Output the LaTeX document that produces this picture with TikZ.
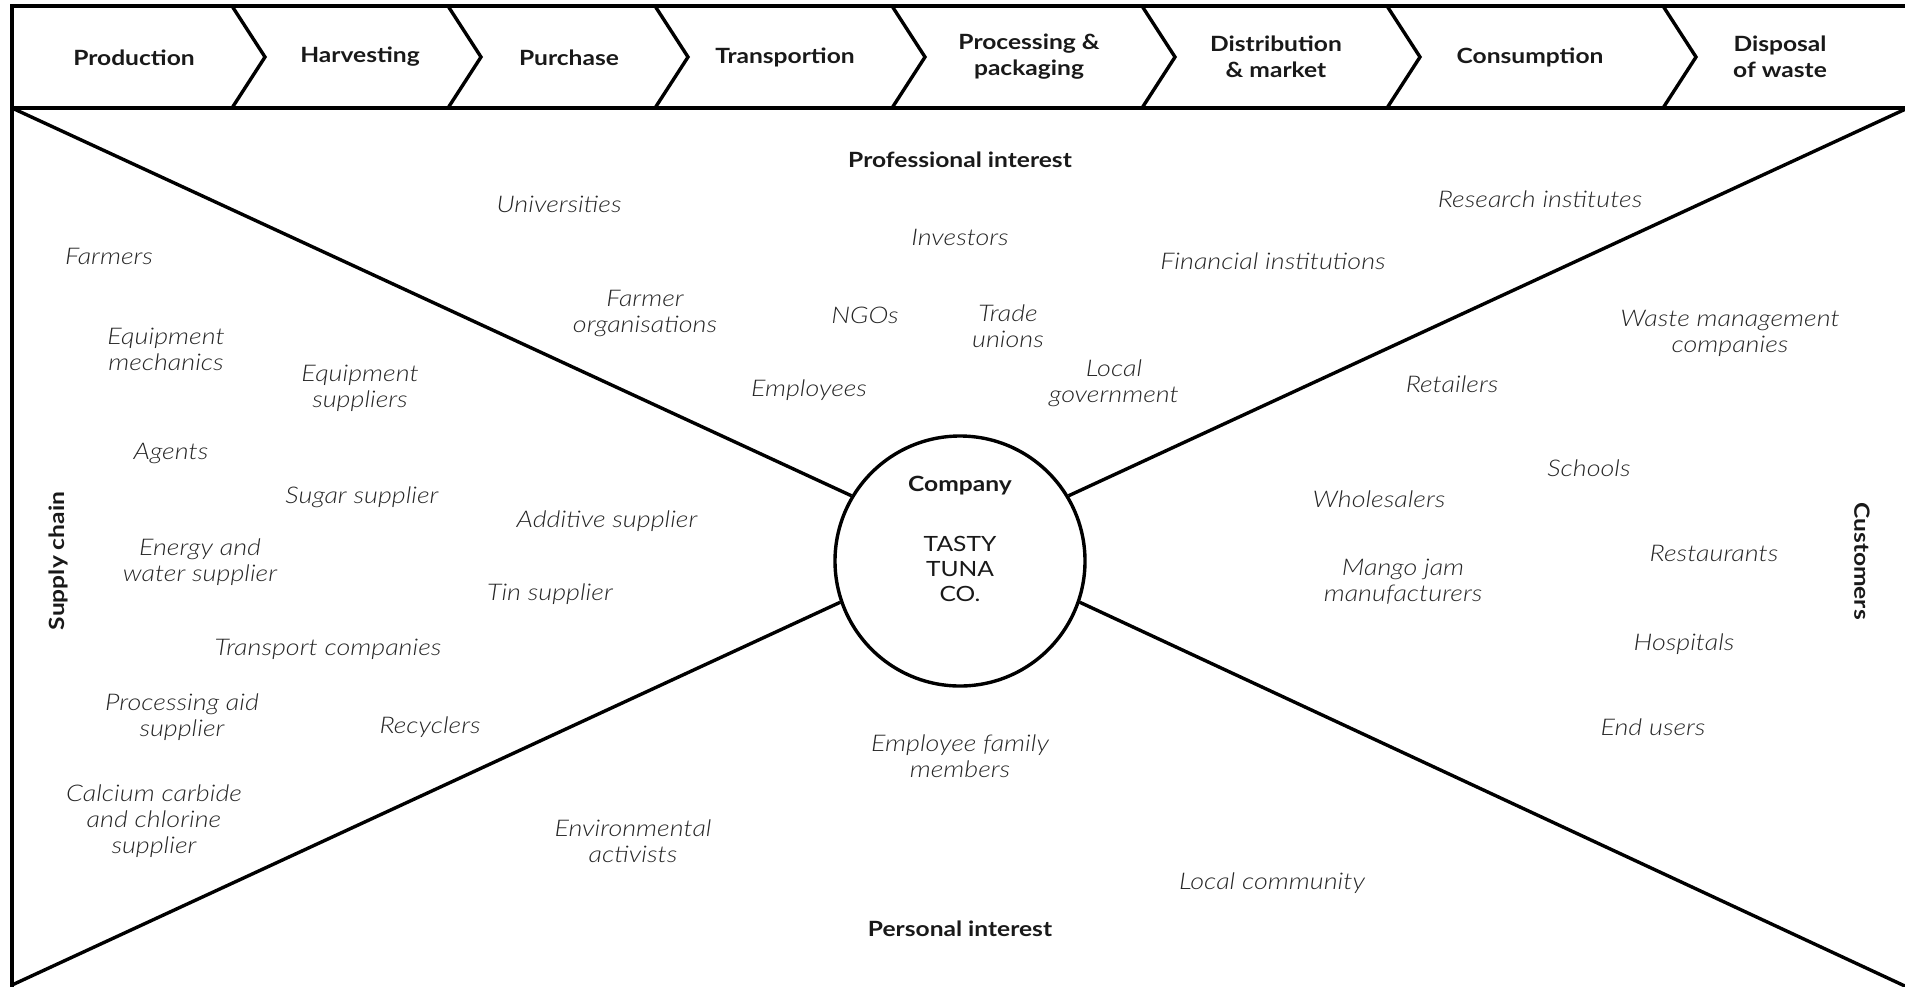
\documentclass[tikz,border=0pt]{standalone}
\usepackage{fontspec}
\setsansfont{Lato}[FakeStretch=1.17, ItalicFont={Lato Light Italic}]
\usetikzlibrary{positioning}

\begin{document}
\begin{tikzpicture}[x=1pt, y=-1pt, line width=3.4pt, node distance=25pt,
    stage/.style={font=\fontsize{21}{26}\selectfont\bfseries, align=center, text=black!90},
    stake/.style={font=\fontsize{23}{26}\selectfont\itshape, align=center, text=black!85},
    group/.style={font=\fontsize{21}{26}\selectfont\bfseries, text=black!90}]
    \sffamily
    \useasboundingbox (0,0) rectangle (1905,986);
    \draw (1925,6) -- (12,6) -- (12,990);
    \draw (12,108) -- (1925,108);
    \foreach \x in {232,448,655,892,1142,1387,1663}
        \draw (\x,6) -- ++(33,51) -- ++(-33,51);
    \node[stage] (Prod) at (134,58) {Production};
    \node[stage] (Harv) at (360,57) {Harvesting};
    \node[stage] (Purch) at (569,58) {Purchase};
    \node[stage] (Trans) at (785,57) {Transportion};
    \node[stage] (Proc) at (1029,57) {Processing \&\\packaging};
    \node[stage] (Dist) at (1276,57) {Distribution\\\& market};
    \node[stage] (Cons) at (1530,57) {Consumption};
    \node[stage] (Disp) at (1780,57) {Disposal\\of waste};
    \node[circle, draw, minimum size=250pt, inner sep=0pt] (Firm) at (960,561) {};
    \node[group] (Comp) at (960,486) {Company};
    \node[align=center, text=black!90, font=\fontsize{21}{25}\selectfont, below=31pt of Comp] (Tasty) {TASTY\\TUNA\\CO.};
    \coordinate (TL) at (12,108);
    \coordinate (TR) at (1910,107);
    \coordinate (BL) at (12,985);
    \coordinate (BR) at (1907,987);
    \draw (TL) -- (Firm.149);
    \draw (TR) -- (Firm.31);
    \draw (BL) -- (Firm.199);
    \draw (BR) -- (Firm.-19);
    \node[group] (ProfInt) at (960,160) {Professional interest};
    \node[group] (PersInt) at (960,929) {Personal interest};
    \node[group, rotate=90] (Supply) at (58,561) {Supply chain};
    \node[group, rotate=-90] (Cust) at (1862,561) {Customers};
    \node[stake] (Farm) at (109,256) {Farmers};
    \node[stake] (EqMech) at (166,349) {Equipment\\mechanics};
    \node[stake] (EqSupp) at (360,388) {Equipment\\suppliers};
    \node[stake] (Agent) at (171,453) {Agents};
    \node[stake] (Sugar) at (362,497) {Sugar supplier};
    \node[stake] (Energy) at (200,562) {Energy and\\water supplier};
    \node[stake] (Addit) at (607,521) {Additive supplier};
    \node[stake] (Tin) at (550,594) {Tin supplier};
    \node[stake] (Transp) at (328,649) {Transport companies};
    \node[stake] (ProcAid) at (182,717) {Processing aid\\supplier};
    \node[stake] (Recyc) at (430,727) {Recyclers};
    \node[stake] (Calc) at (154,821) {Calcium carbide\\and chlorine\\supplier};
    \node[stake] (Univ) at (559,204) {Universities};
    \node[stake] (Invest) at (960,237) {Investors};
    \node[stake] (FinInst) at (1273,261) {Financial institutions};
    \node[stake] (Research) at (1540,199) {Research institutes};
    \node[stake] (FarmOrg) at (645,313) {Farmer\\organisations};
    \node[stake] (NGO) at (865,315) {NGOs};
    \node[stake] (Trade) at (1008,326) {Trade\\unions};
    \node[stake] (LocGov) at (1114,383) {Local\\government};
    \node[stake] (Employ) at (809,390) {Employees};
    \node[stake] (Waste) at (1730,333) {Waste management\\companies};
    \node[stake] (Retail) at (1452,384) {Retailers};
    \node[stake] (School) at (1589,468) {Schools};
    \node[stake] (Whole) at (1379,499) {Wholesalers};
    \node[stake] (Rest) at (1714,553) {Restaurants};
    \node[stake] (Mango) at (1403,582) {Mango jam\\manufacturers};
    \node[stake] (Hosp) at (1684,644) {Hospitals};
    \node[stake] (EndUser) at (1653,727) {End users};
    \node[stake] (EmpFam) at (960,756) {Employee family\\members};
    \node[stake] (EnvAct) at (633,841) {Environmental\\activists};
    \node[stake] (LocCom) at (1272,883) {Local community};
\end{tikzpicture}
\end{document}
